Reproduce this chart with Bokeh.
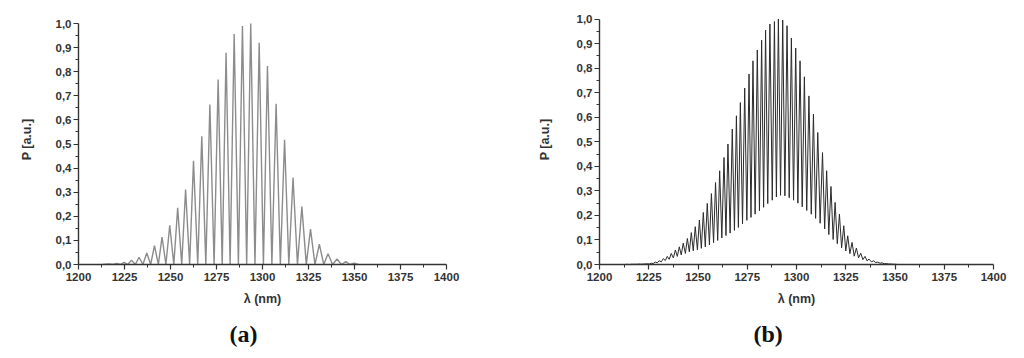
from bokeh.plotting import figure
from bokeh.layouts import row
from bokeh.models import FixedTicker, Range1d, Title, CustomJSTickFormatter, ColumnDataSource
from bokeh.embed import file_html
from bokeh.resources import INLINE

# ---------------- data ----------------
x_ticks = [1200, 1225, 1250, 1275, 1300, 1325, 1350, 1375, 1400]
x_minor = [1212.5, 1237.5, 1262.5, 1287.5, 1312.5, 1337.5, 1362.5, 1387.5]
y_ticks = [0.0, 0.1, 0.2, 0.3, 0.4, 0.5, 0.6, 0.7, 0.8, 0.9, 1.0]
y_minor = [0.05, 0.15, 0.25, 0.35, 0.45, 0.55, 0.65, 0.75, 0.85, 0.95]

# panel (a): fringe maxima and minima
a_peak_nm = [1216.6, 1220.8, 1224.8, 1228.8, 1232.9, 1237.1, 1241.3, 1245.4, 1249.6,
             1253.9, 1258.2, 1262.5, 1267.0, 1271.4, 1275.9, 1280.2, 1284.6, 1289.1,
             1293.6, 1298.2, 1302.7, 1307.4, 1312.0, 1316.6, 1321.4, 1326.1, 1330.9,
             1335.6, 1340.5, 1345.3, 1349.8]
a_peak_p = [0.002, 0.004, 0.009, 0.018, 0.030, 0.048, 0.078, 0.114, 0.163,
            0.235, 0.311, 0.430, 0.532, 0.664, 0.768, 0.879, 0.956, 0.990,
            1.000, 0.920, 0.824, 0.667, 0.518, 0.361, 0.240, 0.147, 0.084,
            0.045, 0.023, 0.012, 0.005]
a_trough_nm = [1213.0, 1218.7, 1222.8, 1226.8, 1230.9, 1235.0, 1239.2, 1243.4, 1247.5,
               1251.8, 1256.1, 1260.4, 1264.8, 1269.2, 1273.7, 1278.1, 1282.4, 1286.9,
               1291.4, 1295.9, 1300.5, 1305.1, 1309.7, 1314.3, 1319.0, 1323.8, 1328.5,
               1333.3, 1338.1, 1342.9, 1347.6, 1352.0]
a_trough_p = [0.0] * 32

# panel (b): fringe maxima and minima
b_peak_nm = [1214.1, 1216.1, 1218.1, 1220.2, 1222.2, 1224.2, 1226.3, 1228.3, 1230.3,
             1232.4, 1234.4, 1236.4, 1238.5, 1240.5, 1242.5, 1244.6, 1246.6, 1248.6,
             1250.7, 1252.7, 1254.7, 1256.8, 1258.9, 1261.0, 1263.2, 1265.2, 1267.4,
             1269.5, 1271.5, 1273.7, 1275.9, 1277.9, 1280.1, 1282.3, 1284.3, 1286.5,
             1288.8, 1290.8, 1293.0, 1295.2, 1297.4, 1299.6, 1301.8, 1304.0, 1306.3,
             1308.6, 1310.8, 1313.2, 1315.3, 1317.5, 1319.6, 1321.8, 1324.0, 1326.0,
             1328.2, 1330.4, 1332.6, 1334.8, 1336.8, 1339.1, 1341.3, 1343.4, 1345.6,
             1347.9, 1350.1, 1352.2]
b_peak_p = [0.001, 0.001, 0.001, 0.002, 0.002, 0.003, 0.005, 0.010, 0.015,
            0.024, 0.033, 0.045, 0.059, 0.072, 0.087, 0.106, 0.130, 0.154,
            0.181, 0.212, 0.249, 0.289, 0.334, 0.382, 0.436, 0.491, 0.552,
            0.606, 0.660, 0.719, 0.776, 0.830, 0.874, 0.914, 0.955, 0.980,
            0.990, 1.000, 0.996, 0.973, 0.923, 0.882, 0.830, 0.765, 0.687,
            0.613, 0.538, 0.456, 0.382, 0.318, 0.253, 0.205, 0.158, 0.117,
            0.090, 0.067, 0.046, 0.033, 0.022, 0.015, 0.010, 0.007, 0.004,
            0.002, 0.001, 0.000]
b_trough_nm = [1213.1, 1215.1, 1217.1, 1219.2, 1221.2, 1223.2, 1225.3, 1227.3, 1229.3,
               1231.4, 1233.4, 1235.4, 1237.5, 1239.5, 1241.5, 1243.6, 1245.6, 1247.6,
               1249.7, 1251.7, 1253.7, 1255.8, 1257.9, 1260.0, 1262.1, 1264.2, 1266.3,
               1268.5, 1270.5, 1272.6, 1274.8, 1276.9, 1279.0, 1281.2, 1283.3, 1285.4,
               1287.7, 1289.8, 1291.9, 1294.1, 1296.3, 1298.5, 1300.7, 1302.9, 1305.2,
               1307.5, 1309.7, 1312.0, 1314.3, 1316.4, 1318.6, 1320.7, 1322.9, 1325.0,
               1327.1, 1329.3, 1331.5, 1333.7, 1335.8, 1338.0, 1340.2, 1342.4, 1344.5,
               1346.8, 1349.0, 1351.2, 1353.3]
b_trough_p = [0.000, 0.000, 0.001, 0.001, 0.001, 0.002, 0.002, 0.004, 0.007,
              0.011, 0.016, 0.021, 0.027, 0.033, 0.039, 0.045, 0.051, 0.056,
              0.060, 0.066, 0.072, 0.080, 0.089, 0.098, 0.108, 0.118, 0.128,
              0.139, 0.151, 0.165, 0.180, 0.192, 0.205, 0.219, 0.233, 0.248,
              0.262, 0.275, 0.282, 0.280, 0.272, 0.262, 0.250, 0.235, 0.220,
              0.205, 0.188, 0.168, 0.145, 0.122, 0.102, 0.085, 0.068, 0.055,
              0.044, 0.034, 0.027, 0.020, 0.015, 0.011, 0.008, 0.005, 0.003,
              0.002, 0.001, 0.000, 0.000]

x_title = "λ (nm)"
y_title = "P [a.u.]"
panel_labels = ["(a)", "(b)"]


def merged(nm1, p1, nm2, p2):
    pts = sorted(zip(list(nm1) + list(nm2), list(p1) + list(p2)))
    return ColumnDataSource(data=dict(x=[q[0] for q in pts], y=[q[1] for q in pts]))


def make_panel(src, line_color, line_width, borders, frame_w, y_top,
               label_text, label_offset, ylab_standoff):
    bl, br = borders
    p = figure(frame_width=frame_w, frame_height=250,
               min_border_left=bl, min_border_right=br,
               min_border_top=14, min_border_bottom=92,
               x_range=Range1d(1200, 1400), y_range=Range1d(0, y_top),
               output_backend="svg", toolbar_location=None)
    p.outline_line_color = None
    p.xgrid.visible = False
    p.ygrid.visible = False
    p.background_fill_color = "white"
    p.border_fill_color = "white"

    p.line("x", "y", source=src, line_color=line_color, line_width=line_width)

    p.xaxis.ticker = FixedTicker(ticks=x_ticks, minor_ticks=x_minor)
    p.yaxis.ticker = FixedTicker(ticks=y_ticks, minor_ticks=y_minor)
    p.yaxis.formatter = CustomJSTickFormatter(code="return tick.toFixed(1).replace('.', ',');")
    p.yaxis.bounds = (0, 1)

    for ax in (p.xaxis[0], p.yaxis[0]):
        ax.axis_line_color = "#333333"
        ax.axis_line_width = 1.4
        ax.major_tick_line_color = "#333333"
        ax.minor_tick_line_color = "#333333"
        ax.major_tick_line_width = 1.2
        ax.minor_tick_line_width = 1.0
        ax.major_tick_in = 0
        ax.major_tick_out = 5
        ax.minor_tick_in = 0
        ax.minor_tick_out = 3
        ax.major_label_text_font = "Liberation Sans"
        ax.major_label_text_font_size = "11.5px"
        ax.major_label_text_font_style = "bold"
        ax.major_label_text_color = "#333333"
        ax.axis_label_text_font = "Liberation Sans"
        ax.axis_label_text_font_size = "12.5px"
        ax.axis_label_text_font_style = "bold"
        ax.axis_label_text_color = "#333333"

    p.xaxis.axis_label = x_title
    p.yaxis.axis_label = y_title
    p.xaxis.major_label_standoff = 3
    p.yaxis.major_label_standoff = 2
    p.xaxis.axis_label_standoff = 8
    p.yaxis.axis_label_standoff = ylab_standoff

    t = Title(text=label_text, align="left", offset=label_offset, standoff=20,
              text_font="Liberation Serif", text_font_style="bold",
              text_font_size="24px", text_color="#111111")
    p.add_layout(t, "below")
    return p


src_a = merged(a_peak_nm, a_peak_p, a_trough_nm, a_trough_p)
src_b = merged(b_peak_nm, b_peak_p, b_trough_nm, b_trough_p)

pa = make_panel(src_a, "#8c8c8c", 1.4, (78, 74), 368, 250 / 241.0,
                panel_labels[0], 151, 19)
pb = make_panel(src_b, "#2b2b2b", 1.0, (79, 23), 394, 250 / 245.4,
                panel_labels[1], 154, 22)

layout = row(pa, pb)
open("out.html", "w").write(file_html(layout, INLINE))
